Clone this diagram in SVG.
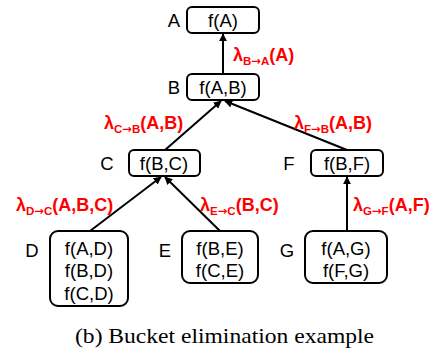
<svg xmlns="http://www.w3.org/2000/svg" width="440" height="358" viewBox="0 0 440 358">
<style>
.box{fill:#fff;stroke:#000;stroke-width:2}
.t{font-family:"Liberation Sans",Arial,sans-serif;font-size:18.5px;fill:#000;text-anchor:middle}
.n{font-family:"Liberation Sans",Arial,sans-serif;font-size:18.5px;fill:#000;text-anchor:middle}
.l{font-family:"Liberation Sans",Arial,sans-serif;font-size:18px;font-weight:bold;fill:#ff0000}
.s{font-size:11.5px}
.ar{font-family:"DejaVu Sans",sans-serif;font-size:11.5px;font-weight:bold}
.e{stroke:#000;stroke-width:2;fill:none;marker-end:url(#ah)}
.cap{font-family:"Liberation Serif","Times New Roman",serif;font-size:22px;fill:#000}
</style>
<defs>
<marker id="ah" viewBox="0 0 10 10" refX="9" refY="5" markerWidth="4" markerHeight="4" orient="auto" markerUnits="strokeWidth">
<path d="M0,0 L10,5 L0,10 z" fill="#000"/>
</marker>
</defs>
<g id="connectors">
<line class="e" x1="223" y1="73" x2="223" y2="34"/>
<line class="e" x1="165" y1="150" x2="221" y2="101"/>
<line class="e" x1="347" y1="150" x2="225" y2="101"/>
<line class="e" x1="90" y1="231" x2="161" y2="177"/>
<line class="e" x1="220" y1="231" x2="165" y2="177"/>
<line class="e" x1="347" y1="231" x2="347" y2="177"/>
</g>
<g id="labels">
<text class="l" x="233" y="61">λ<tspan class="s" dy="4">B<tspan class="ar">→</tspan>A</tspan><tspan dy="-4">(A)</tspan></text>
<text class="l" x="104" y="129">λ<tspan class="s" dy="4">C<tspan class="ar">→</tspan>B</tspan><tspan dy="-4">(A,B)</tspan></text>
<text class="l" x="294" y="129">λ<tspan class="s" dy="4">F<tspan class="ar">→</tspan>B</tspan><tspan dy="-4">(A,B)</tspan></text>
<text class="l" x="16" y="211">λ<tspan class="s" dy="4">D<tspan class="ar">→</tspan>C</tspan><tspan dy="-4">(A,B,C)</tspan></text>
<text class="l" x="200" y="211">λ<tspan class="s" dy="4">E<tspan class="ar">→</tspan>C</tspan><tspan dy="-4">(B,C)</tspan></text>
<text class="l" x="353" y="211">λ<tspan class="s" dy="4">G<tspan class="ar">→</tspan>F</tspan><tspan dy="-4">(A,F)</tspan></text>
</g>
<g id="A">
<text class="n" x="174" y="27">A</text>
<rect class="box" x="187" y="7" width="72" height="26" rx="5"/>
<text class="t" x="223" y="27">f(A)</text>
</g>
<g id="B">
<text class="n" x="174" y="94">B</text>
<rect class="box" x="187" y="74" width="72" height="26" rx="5"/>
<text class="t" x="223" y="94">f(A,B)</text>
</g>
<g id="C">
<text class="n" x="107" y="170">C</text>
<rect class="box" x="129" y="150" width="71" height="26" rx="5"/>
<text class="t" x="164" y="170">f(B,C)</text>
</g>
<g id="F">
<text class="n" x="289" y="170">F</text>
<rect class="box" x="311" y="150" width="72" height="26" rx="5"/>
<text class="t" x="347" y="170">f(B,F)</text>
</g>
<g id="D">
<text class="n" x="32" y="257">D</text>
<rect class="box" x="50" y="231" width="78" height="75" rx="8"/>
<text class="t" x="89" y="255">f(A,D)</text>
<text class="t" x="89" y="277">f(B,D)</text>
<text class="t" x="89" y="300">f(C,D)</text>
</g>
<g id="E">
<text class="n" x="165" y="257">E</text>
<rect class="box" x="182" y="231" width="76" height="52" rx="8"/>
<text class="t" x="220" y="255">f(B,E)</text>
<text class="t" x="220" y="277">f(C,E)</text>
</g>
<g id="G">
<text class="n" x="287" y="257">G</text>
<rect class="box" x="305" y="231" width="82" height="52" rx="8"/>
<text class="t" x="346" y="255">f(A,G)</text>
<text class="t" x="346" y="277">f(F,G)</text>
</g>
<text class="cap" x="75" y="343" textLength="299" lengthAdjust="spacingAndGlyphs">(b) Bucket elimination example</text>
</svg>
